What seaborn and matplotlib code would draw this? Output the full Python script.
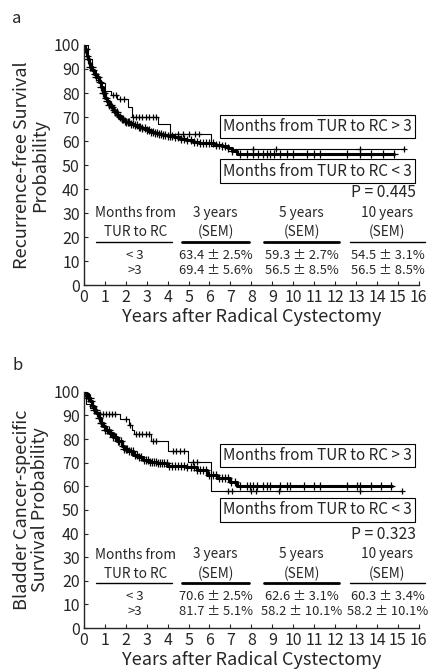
import numpy as np
import pandas as pd
import matplotlib
matplotlib.use("Agg")
import matplotlib.pyplot as plt
import seaborn as sns

# --- data ---
# panel a: recurrence-free survival
a_lt3_t = [0, 0.05, 0.1, 0.15, 0.2, 0.25, 0.3, 0.4, 0.5, 0.6, 0.7, 0.8, 0.9, 1.0, 1.1, 1.2, 1.3, 1.4,
           1.5, 1.6, 1.7, 1.8, 1.9, 2.0, 2.2, 2.4, 2.6, 2.8, 3.0, 3.2, 3.4, 3.6, 3.8, 4.0, 4.3, 4.6,
           4.9, 5.2, 5.5, 5.8, 6.2, 6.6, 6.9, 7.1, 7.3, 14.8]
a_lt3_s = [100, 98.5, 97, 95.5, 94, 92.5, 91, 89.5, 88, 86.5, 84.5, 82.5, 80, 78, 76.5, 75, 74, 73,
           72, 71, 70, 69, 68.5, 68, 67.2, 66.5, 66, 65.3, 64.5, 63.8, 63.4, 63, 62.5, 62, 61.5, 61,
           60.5, 59.8, 59.3, 59, 58.5, 58, 57, 56, 54.5, 54.5]
a_lt3_cens = [0.08, 0.15, 0.22, 0.3, 0.38, 0.45, 0.52, 0.6, 0.68, 0.75, 0.82, 0.9, 0.97, 1.05, 1.12,
              1.2, 1.28, 1.35, 1.42, 1.5, 1.58, 1.65, 1.72, 1.8, 1.88, 1.95, 2.02, 2.1, 2.18, 2.25,
              2.35, 2.45, 2.55, 2.62, 2.7, 2.8, 2.9, 3.0, 3.1, 3.2, 3.3, 3.4, 3.5, 3.6, 3.7, 3.8,
              3.9, 4.0, 4.1, 4.2, 4.35, 4.5, 4.65, 4.8, 4.95, 5.1, 5.25, 5.4, 5.55, 5.7, 5.85, 6.0,
              6.15, 6.3, 6.45, 6.6, 6.75, 6.9, 7.1, 7.46, 7.78, 8.1, 8.34, 8.58, 8.74, 8.9, 9.06,
              9.38, 9.7, 10.0, 10.65, 10.97, 11.3, 12.56, 13.2, 13.7, 14.3, 14.8]
a_gt3_t = [0, 0.2, 0.4, 0.6, 0.8, 1.0, 1.3, 1.6, 2.1, 2.3, 3.55, 4.1, 6.05, 6.9, 15.3]
a_gt3_s = [100, 94, 89, 85.5, 84, 81, 79, 77.5, 74, 70, 67, 63, 58, 56.5, 56.5]
a_gt3_cens = [1.4, 1.55, 1.75, 1.9, 2.35, 2.5, 2.65, 2.8, 2.95, 3.1, 3.3, 3.45, 4.5, 4.75, 5.0,
              5.3, 5.5, 8.1, 9.2, 13.2, 15.3]

# panel b: bladder cancer-specific survival
b_lt3_t = [0, 0.05, 0.1, 0.2, 0.3, 0.4, 0.5, 0.6, 0.7, 0.8, 0.9, 1.0, 1.2, 1.4, 1.6, 1.8, 1.9, 2.1,
           2.36, 2.6, 2.84, 3.1, 3.48, 3.96, 4.9, 5.4, 5.87, 6.35, 7.0, 7.3, 14.7]
b_lt3_s = [100, 99.5, 99, 97.5, 96, 94, 92.5, 91, 89, 87, 85.5, 84, 82.5, 81, 79, 77, 76, 75,
           73.3, 72.3, 71.2, 70.5, 69.8, 68.6, 68.4, 67, 64.8, 63.4, 62, 60.3, 60.3]
b_lt3_cens = [0.05, 0.12, 0.2, 0.28, 0.35, 0.42, 0.5, 0.58, 0.65, 0.72, 0.8, 0.88, 0.95, 1.02, 1.1,
              1.18, 1.25, 1.32, 1.4, 1.48, 1.55, 1.62, 1.7, 1.78, 1.85, 1.92, 2.0, 2.08, 2.15, 2.25,
              2.35, 2.45, 2.55, 2.65, 2.75, 2.85, 2.95, 3.05, 3.15, 3.25, 3.35, 3.45, 3.55, 3.65,
              3.75, 3.85, 3.95, 4.05, 4.2, 4.35, 4.5, 4.65, 4.8, 4.95, 5.1, 5.25, 5.4, 5.55, 5.7,
              5.85, 6.0, 6.15, 6.3, 6.45, 6.6, 6.75, 6.9, 7.05, 7.2, 7.46, 7.78, 7.94, 8.1, 8.26,
              8.58, 8.74, 8.9, 9.38, 9.7, 9.86, 10.5, 10.97, 11.3, 12.56, 13.04, 13.2, 13.7, 14.2,
              14.65]
b_gt3_t = [0, 0.1, 0.3, 0.6, 1.74, 2.14, 2.3, 2.4, 3.2, 4.0, 4.99, 6.06, 15.2]
b_gt3_s = [100, 95, 93, 90.5, 88.5, 86, 84, 82, 79, 75, 70.5, 58, 58]
b_gt3_cens = [0.75, 0.9, 1.05, 1.2, 1.35, 1.5, 2.0, 2.2, 2.5, 2.65, 2.8, 2.95, 3.1, 3.3, 3.45,
              4.25, 4.4, 4.6, 4.8, 5.2, 5.4, 6.9, 7.1, 8.0, 8.2, 9.3, 13.2, 15.2]

# table contents
table_cols = ["Months from\nTUR to RC", "3 years\n(SEM)", "5 years\n(SEM)", "10 years\n(SEM)"]
groups = ["< 3", ">3"]
a_rows = [["63.4 ± 2.5%", "59.3 ± 2.7%", "54.5 ± 3.1%"],
          ["69.4 ± 5.6%", "56.5 ± 8.5%", "56.5 ± 8.5%"]]
b_rows = [["70.6 ± 2.5%", "62.6 ± 3.1%", "60.3 ± 3.4%"],
          ["81.7 ± 5.1%", "58.2 ± 10.1%", "58.2 ± 10.1%"]]
p_values = ["P = 0.445", "P = 0.323"]

sns.set_style("ticks")
plt.rcParams["font.family"] = ["Noto Sans CJK KR", "DejaVu Sans"]


def step_at(t, s, x):
    idx = np.searchsorted(np.array(t), np.array(x), side="right") - 1
    return np.array(s)[idx]


def draw_panel(ax, curves, rows, pval, ylabel, ybox_gt, ybox_lt, ytab):
    for t, s, cens, lw, ms in curves:
        sns.lineplot(x=t, y=s, drawstyle="steps-post", estimator=None, sort=False,
                     color="black", linewidth=lw, ax=ax)
        sns.scatterplot(x=cens, y=step_at(t, s, cens), marker="+", s=ms, color="black",
                        linewidth=0.9, ax=ax)
    ax.set_xlim(0, 16)
    ax.set_ylim(0, 100)
    ax.set_xticks(range(0, 17))
    ax.set_yticks(range(0, 101, 10))
    ax.tick_params(direction="in", length=3, labelsize=11.5, pad=3)
    ax.set_xlabel("Years after Radical Cystectomy", fontsize=13, labelpad=1)
    ax.set_ylabel(ylabel, fontsize=13, labelpad=3, linespacing=1.0)
    sns.despine(ax=ax)
    for sp in ax.spines.values():
        sp.set_linewidth(1.0)

    box = dict(boxstyle="square,pad=0.22", fc="white", ec="black", lw=0.8)
    ax.text(11.15, ybox_gt, "Months from TUR to RC > 3", ha="center", va="center",
            fontsize=11, bbox=box)
    ax.text(11.15, ybox_lt, "Months from TUR to RC < 3", ha="center", va="center",
            fontsize=11, bbox=box)
    ax.text(15.85, ytab + 8.5, pval, ha="right", va="center", fontsize=11.3)

    col_x = [2.45, 6.3, 10.4, 14.5]
    spans = [(0.6, 4.2, 1.0), (4.7, 7.9, 2.0), (8.6, 12.2, 2.0), (12.7, 16.3, 1.0)]
    for x, head in zip(col_x, table_cols):
        ax.text(x, ytab - 4, head, ha="center", va="center", fontsize=9.8, linespacing=1.45)
    for x0, x1, lw in spans:
        ax.plot([x0, x1], [ytab - 12, ytab - 12], color="black", lw=lw, clip_on=False)
    for r, (g, vals) in enumerate(zip(groups, rows)):
        y = ytab - 17.5 - r * 6.5
        ax.text(col_x[0], y, g, ha="center", va="center", fontsize=9.5)
        for x, v in zip(col_x[1:], vals):
            ax.text(x, y, v, ha="center", va="center", fontsize=9.3)


fig = plt.figure(figsize=(4.3, 6.71), dpi=100)
ax_a = fig.add_axes([0.195, 0.575, 0.779, 0.358])
ax_b = fig.add_axes([0.195, 0.064, 0.779, 0.352])

draw_panel(ax_a,
           [(a_lt3_t, a_lt3_s, a_lt3_cens, 2.2, 30), (a_gt3_t, a_gt3_s, a_gt3_cens, 0.8, 22)],
           a_rows, p_values[0], "Recurrence-free Survival\nProbability", 66, 47.5, 30)
draw_panel(ax_b,
           [(b_lt3_t, b_lt3_s, b_lt3_cens, 2.2, 30), (b_gt3_t, b_gt3_s, b_gt3_cens, 0.8, 22)],
           b_rows, p_values[1], "Bladder Cancer-specific\nSurvival Probability", 73, 50, 31)

fig.text(0.028, 0.972, "a", fontsize=12, va="center")
fig.text(0.028, 0.455, "b", fontsize=12, va="center")

fig.savefig("out.png", dpi=100)
